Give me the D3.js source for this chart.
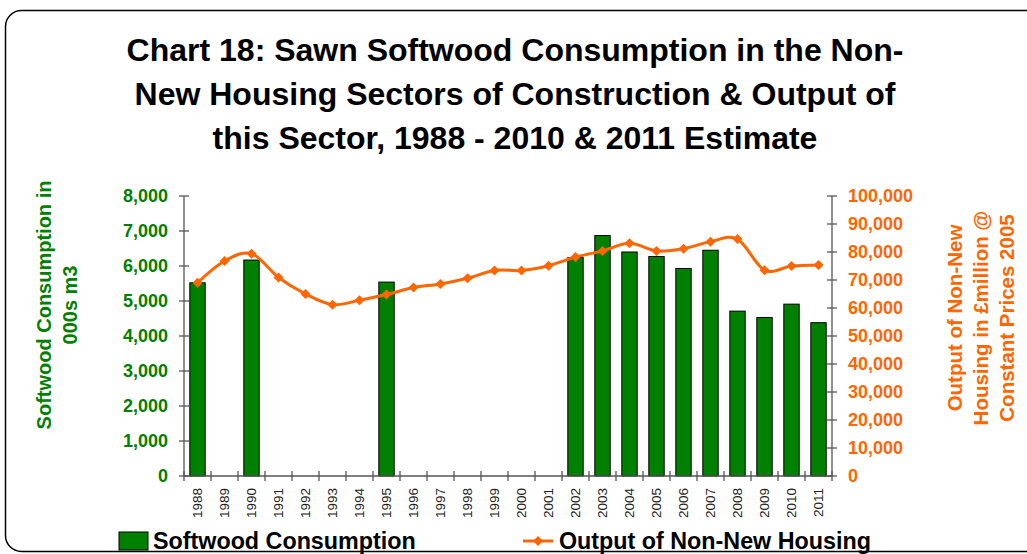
<!DOCTYPE html>
<html>
<head>
<meta charset="utf-8">
<script src="https://cdn.jsdelivr.net/npm/d3@7"></script>
<style>
  body { margin: 0; background: #fff; }
  svg { display: block; font-family: Arial, "Liberation Sans", sans-serif; }
</style>
</head>
<body>
<svg id="chart" width="1027" height="554"></svg>
<script>
// data
const years = ['1988', '1989', '1990', '1991', '1992', '1993', '1994', '1995', '1996', '1997', '1998', '1999',
  '2000', '2001', '2002', '2003', '2004', '2005', '2006', '2007', '2008', '2009', '2010', '2011']
const softwood = [5520, null, 6170, null, null, null, null, 5540, null, null, null, null,
  null, null, 6240, 6870, 6400, 6270, 5930, 6450, 4710, 4530, 4910, 4380]
const output = [69000, 76800, 79400, 70900, 65000, 61200, 62800, 64800, 67300, 68600, 70600, 73400,
  73400, 75100, 78200, 80400, 83100, 80400, 81200, 83700, 84600, 73500, 75000, 75400]
const leftTicks = [0, 1000, 2000, 3000, 4000, 5000, 6000, 7000, 8000]
const rightTicks = [0, 10000, 20000, 30000, 40000, 50000, 60000, 70000, 80000, 90000, 100000]
const titleLines = ['Chart 18: Sawn Softwood Consumption in the Non-',
  'New Housing Sectors of Construction & Output of',
  'this Sector, 1988 - 2010 & 2011 Estimate']

const green = '#008000'
const orange = '#ff6600'
const axisCol = '#555'

const svg = d3.select('#chart')
const plotLeft = 184
const plotRight = 832
const plotTop = 196
const plotBottom = 476

// frame
svg.append('rect')
  .attr('x', 5.5).attr('y', 10.5)
  .attr('width', 1060).attr('height', 541)
  .attr('rx', 16)
  .attr('fill', 'none')
  .attr('stroke', '#000')
  .attr('stroke-width', 1.5)

// title
svg.append('g').selectAll('text').data(titleLines)
  .enter().append('text')
  .attr('x', 515)
  .attr('y', (d, i) => 61 + i * 44)
  .attr('text-anchor', 'middle')
  .style('font-size', '32px')
  .style('font-weight', 'bold')
  .text(d => d)

const x = d3.scaleBand().domain(years).range([plotLeft, plotRight]).padding(0)
const yL = d3.scaleLinear().domain([0, 8000]).range([plotBottom, plotTop])
const yR = d3.scaleLinear().domain([0, 100000]).range([plotBottom, plotTop])

// bars
const bw = x.bandwidth() * 0.57
svg.append('g').selectAll('rect')
  .data(years.map((y, i) => ({ year: y, v: softwood[i] })).filter(d => d.v !== null))
  .enter().append('rect')
  .attr('x', d => x(d.year) + (x.bandwidth() - bw) / 2)
  .attr('y', d => yL(d.v))
  .attr('width', bw)
  .attr('height', d => plotBottom - yL(d.v))
  .attr('fill', green)
  .attr('stroke', '#000')
  .attr('stroke-width', 1)

// axes
const ax = svg.append('g').attr('stroke', axisCol).attr('stroke-width', 1.3)
ax.append('line').attr('x1', plotLeft).attr('x2', plotLeft).attr('y1', plotTop).attr('y2', plotBottom)
ax.append('line').attr('x1', plotRight).attr('x2', plotRight).attr('y1', plotTop).attr('y2', plotBottom)
ax.append('line').attr('x1', plotLeft).attr('x2', plotRight).attr('y1', plotBottom).attr('y2', plotBottom)

ax.selectAll('.lt').data(leftTicks).enter().append('line')
  .attr('x1', plotLeft - 5).attr('x2', plotLeft + 5)
  .attr('y1', d => yL(d)).attr('y2', d => yL(d))
ax.selectAll('.rt').data(rightTicks).enter().append('line')
  .attr('x1', plotRight - 5).attr('x2', plotRight + 5)
  .attr('y1', d => yR(d)).attr('y2', d => yR(d))
ax.selectAll('.xt').data(years.concat(['end'])).enter().append('line')
  .attr('x1', d => d === 'end' ? plotRight : x(d))
  .attr('x2', d => d === 'end' ? plotRight : x(d))
  .attr('y1', plotBottom - 5).attr('y2', plotBottom + 5)

svg.append('g').selectAll('text').data(leftTicks)
  .enter().append('text')
  .attr('x', 168)
  .attr('y', d => yL(d))
  .attr('dy', '0.35em')
  .attr('text-anchor', 'end')
  .attr('fill', green)
  .style('font-size', '18px')
  .style('font-weight', 'bold')
  .text(d => d3.format(',')(d))

svg.append('g').selectAll('text').data(rightTicks)
  .enter().append('text')
  .attr('x', 848)
  .attr('y', d => yR(d))
  .attr('dy', '0.35em')
  .attr('fill', orange)
  .style('font-size', '18px')
  .style('font-weight', 'bold')
  .text(d => d3.format(',')(d))

svg.append('g').selectAll('text').data(years)
  .enter().append('text')
  .attr('transform', d => 'translate(' + (x(d) + x.bandwidth() / 2) + ',' + 488 + ') rotate(-90)')
  .attr('dy', '0.35em')
  .attr('text-anchor', 'end')
  .attr('fill', '#222')
  .style('font-size', '13.5px')
  .text(d => d)

// axis titles
const leftTitle = ['Softwood Consumption in', '000s m3']
svg.append('g').selectAll('text').data(leftTitle)
  .enter().append('text')
  .attr('transform', (d, i) => 'translate(' + (44 + i * 26) + ',305) rotate(-90)')
  .attr('dy', '0.35em')
  .attr('text-anchor', 'middle')
  .attr('fill', green)
  .style('font-size', '20px')
  .style('font-weight', 'bold')
  .text(d => d)

const rightTitle = ['Output of Non-New', 'Housing in £million @', 'Constant Prices 2005']
svg.append('g').selectAll('text').data(rightTitle)
  .enter().append('text')
  .attr('transform', (d, i) => 'translate(' + (955 + i * 26) + ',318) rotate(-90)')
  .attr('dy', '0.35em')
  .attr('text-anchor', 'middle')
  .attr('fill', orange)
  .style('font-size', '20.5px')
  .style('font-weight', 'bold')
  .text(d => d)

// line
const pts = years.map((y, i) => [x(y) + x.bandwidth() / 2, yR(output[i])])
svg.append('path')
  .attr('d', d3.line().curve(d3.curveCardinal.tension(0))(pts))
  .attr('fill', 'none')
  .attr('stroke', orange)
  .attr('stroke-width', 3)

const diamond = d3.symbol().type(d3.symbolSquare).size(50)
svg.append('g').selectAll('path').data(pts)
  .enter().append('path')
  .attr('d', diamond)
  .attr('transform', d => 'translate(' + d[0] + ',' + d[1] + ') rotate(45)')
  .attr('fill', orange)

// legend
const lg = svg.append('g')
lg.append('rect')
  .attr('x', 119).attr('y', 532).attr('width', 29).attr('height', 18)
  .attr('fill', green).attr('stroke', '#000')
lg.append('text')
  .attr('x', 153).attr('y', 549)
  .style('font-size', '23.3px').style('font-weight', 'bold')
  .text('Softwood Consumption')
lg.append('line')
  .attr('x1', 523).attr('x2', 553).attr('y1', 541).attr('y2', 541)
  .attr('stroke', orange).attr('stroke-width', 3)
lg.append('path')
  .attr('d', diamond)
  .attr('transform', 'translate(538,541) rotate(45)')
  .attr('fill', orange)
lg.append('text')
  .attr('x', 559).attr('y', 549)
  .style('font-size', '23.3px').style('font-weight', 'bold')
  .text('Output of Non-New Housing')
</script>
</body>
</html>
